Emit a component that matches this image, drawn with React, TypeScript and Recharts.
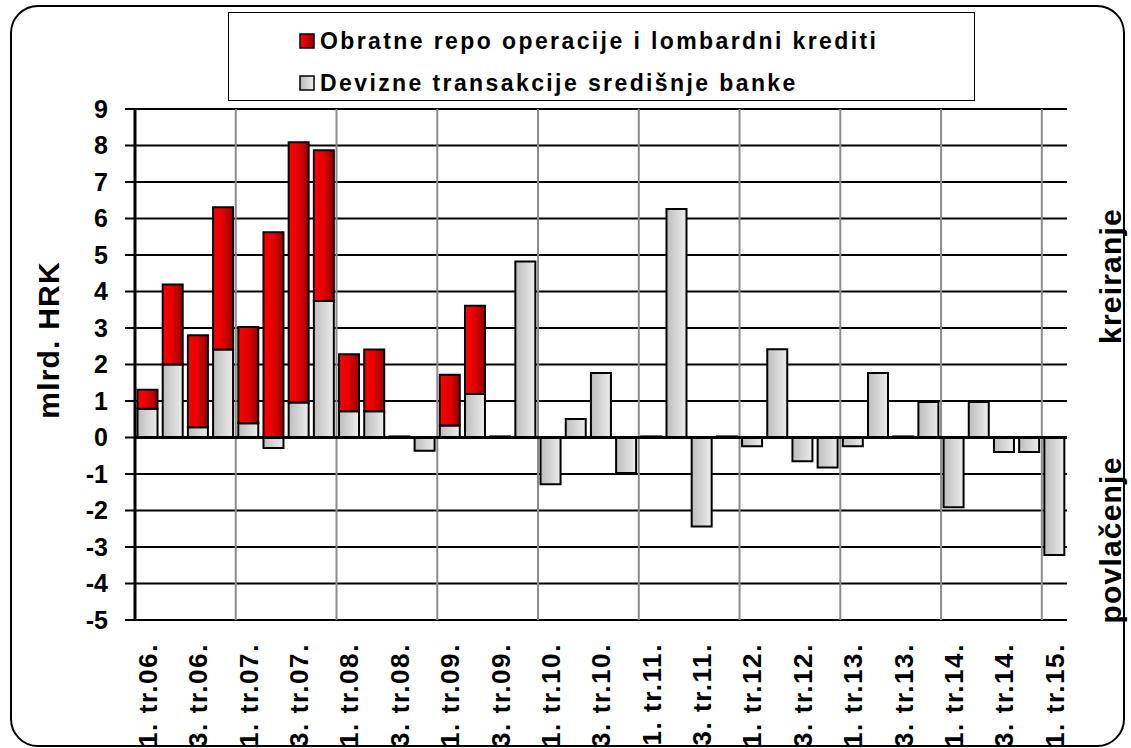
// Kreiranje i povlačenje likvidnosti — repo/lombard vs. FX transactions, quarterly 2006–2015.
import { Bar, BarChart, CartesianGrid, Legend, ReferenceLine, XAxis, YAxis } from "recharts";

const quarters = [
  "1. tr.06.", "2. tr.06.", "3. tr.06.", "4. tr.06.",
  "1. tr.07.", "2. tr.07.", "3. tr.07.", "4. tr.07.",
  "1. tr.08.", "2. tr.08.", "3. tr.08.", "4. tr.08.",
  "1. tr.09.", "2. tr.09.", "3. tr.09.", "4. tr.09.",
  "1. tr.10.", "2. tr.10.", "3. tr.10.", "4. tr.10.",
  "1. tr.11.", "2. tr.11.", "3. tr.11.", "4. tr.11.",
  "1. tr.12.", "2. tr.12.", "3. tr.12.", "4. tr.12.",
  "1. tr.13.", "2. tr.13.", "3. tr.13.", "4. tr.13.",
  "1. tr.14.", "2. tr.14.", "3. tr.14.", "4. tr.14.",
  "1. tr.15.",
];

// Devizne transakcije središnje banke (mlrd. HRK)
const fxTransactions = [
  0.79, 2.0, 0.28, 2.41,
  0.39, -0.29, 0.96, 3.74,
  0.72, 0.72, 0.03, -0.36,
  0.33, 1.19, 0.03, 4.82,
  -1.28, 0.51, 1.77, -0.97,
  0.03, 6.26, -2.44, 0.03,
  -0.24, 2.42, -0.65, -0.82,
  -0.24, 1.77, 0.03, 0.97,
  -1.91, 0.97, -0.4, -0.4,
  -3.22,
];

// Obratne repo operacije i lombardni krediti (mlrd. HRK)
const repoLombard = [
  0.52, 2.19, 2.52, 3.9,
  2.64, 5.62, 7.13, 4.13,
  1.56, 1.69, 0, 0,
  1.39, 2.42, 0, 0,
  0, 0, 0, 0,
  0, 0, 0, 0,
  0, 0, 0, 0,
  0, 0, 0, 0,
  0, 0, 0, 0,
  0,
];

const yTicks = [-5, -4, -3, -2, -1, 0, 1, 2, 3, 4, 5, 6, 7, 8, 9];
// index of first quarter of each year from 2007 on (year separators)
const yearStarts = [4, 8, 12, 16, 20, 24, 28, 32, 36];

const seriesLabels = {
  repo: "Obratne repo operacije i lombardni krediti",
  fx: "Devizne transakcije središnje banke",
};

const data = quarters.map((q, i) => ({ q, fx: fxTransactions[i], repo: repoLombard[i] }));

const FONT = "'Liberation Sans', Arial, sans-serif";

function QuarterTick(props: any) {
  const { x, y, payload } = props;
  const ty = y + 23;
  return (
    <text
      x={x}
      y={ty}
      transform={`rotate(-90, ${x}, ${ty})`}
      textAnchor="end"
      dy="0.36em"
      fontFamily={FONT}
      fontWeight="bold"
      fontSize={26}
      letterSpacing={1.6}
      fill="#000"
    >
      {payload.value}
    </text>
  );
}

function Swatch({ id, from, to }: { id: string; from: string; to: string }) {
  return (
    <svg width={16} height={16} style={{ marginRight: 5, flex: "none" }}>
      <defs>
        <linearGradient id={id} x1="0" y1="0" x2="1" y2="0">
          <stop offset="0%" stopColor={from} />
          <stop offset="100%" stopColor={to} />
        </linearGradient>
      </defs>
      <rect x={1} y={1} width={14} height={14} fill={`url(#${id})`} stroke="#000" strokeWidth={1.5} />
    </svg>
  );
}

function LegendBox() {
  const row = {
    display: "flex",
    alignItems: "center",
    height: 42,
    fontFamily: FONT,
    fontWeight: "bold" as const,
    fontSize: 23,
    letterSpacing: 2.4,
    color: "#000",
    whiteSpace: "nowrap" as const,
  };
  return (
    <div style={{ paddingTop: 7, paddingLeft: 70 }}>
      <div style={row}>
        <Swatch id="lgRed" from="#ff0000" to="#a00000" />
        {seriesLabels.repo}
      </div>
      <div style={row}>
        <Swatch id="lgGrey" from="#b8b8b8" to="#f0f0f0" />
        {seriesLabels.fx}
      </div>
    </div>
  );
}

function SideLabel({ x, y, children }: { x: number; y: number; children: string }) {
  return (
    <text
      x={x}
      y={y}
      transform={`rotate(-90, ${x}, ${y})`}
      textAnchor="middle"
      dy="0.36em"
      fontFamily={FONT}
      fontWeight="bold"
      fontSize={30}
      letterSpacing={1.2}
      fill="#000"
    >
      {children}
    </text>
  );
}

export default function App() {
  return (
    <div style={{ position: "absolute", left: 0, top: 0, width: 1131, height: 748, background: "#fff", overflow: "hidden" }}>
      <BarChart
        width={1131}
        height={748}
        data={data}
        stackOffset="sign"
        barCategoryGap="10%"
        margin={{ top: 109, right: 64, bottom: 8, left: 55 }}
      >
        <defs>
          <linearGradient id="redGrad" x1="0" y1="0" x2="1" y2="0">
            <stop offset="0%" stopColor="#ff0000" />
            <stop offset="45%" stopColor="#e60000" />
            <stop offset="100%" stopColor="#9a0000" />
          </linearGradient>
          <linearGradient id="greyGrad" x1="0" y1="0" x2="1" y2="0">
            <stop offset="0%" stopColor="#bdbdbd" />
            <stop offset="100%" stopColor="#ececec" />
          </linearGradient>
        </defs>
        <CartesianGrid vertical={false} stroke="#000" strokeWidth={2} />
        <CartesianGrid
          horizontal={false}
          stroke="#8c8c8c"
          strokeWidth={2}
          verticalCoordinatesGenerator={({ offset }: any) =>
            yearStarts.map((i) => offset.left + (offset.width * i) / quarters.length)
          }
        />
        <XAxis
          dataKey="q"
          interval={1}
          height={120}
          tickSize={0}
          tickMargin={0}
          axisLine={false}
          tickLine={false}
          tick={<QuarterTick />}
        />
        <YAxis
          domain={[-5, 9]}
          ticks={yTicks}
          interval={0}
          width={80}
          tickSize={10}
          tickMargin={17}
          axisLine={{ stroke: "#000", strokeWidth: 3 }}
          tickLine={{ stroke: "#000", strokeWidth: 2 }}
          tick={{ fontFamily: FONT, fontWeight: "bold", fontSize: 25, fill: "#000" }}
        />
        <YAxis
          yAxisId="right"
          orientation="right"
          domain={[-5, 9]}
          width={0}
          tick={false}
          tickLine={false}
          axisLine={{ stroke: "#000", strokeWidth: 2.5 }}
        />
        <Legend
          layout="horizontal"
          verticalAlign="middle"
          align="center"
          content={<LegendBox />}
          wrapperStyle={{
            top: 12,
            left: 228,
            width: 747,
            height: 89,
            border: "1.5px solid #000",
            boxSizing: "border-box",
            background: "#fff",
          }}
        />
        <Bar
          dataKey="fx"
          name={seriesLabels.fx}
          stackId="a"
          fill="url(#greyGrad)"
          stroke="#000"
          strokeWidth={2}
          isAnimationActive={false}
        />
        <Bar
          dataKey="repo"
          name={seriesLabels.repo}
          stackId="a"
          fill="url(#redGrad)"
          stroke="#000"
          strokeWidth={2}
          isAnimationActive={false}
        />
        <ReferenceLine y={0} stroke="#000" strokeWidth={3} />
      </BarChart>

      <svg width={1131} height={748} style={{ position: "absolute", left: 0, top: 0, pointerEvents: "none" }}>
        <SideLabel x={48} y={340}>mlrd. HRK</SideLabel>
        <SideLabel x={1110} y={276}>kreiranje</SideLabel>
        <SideLabel x={1110} y={540}>povlačenje</SideLabel>
      </svg>

      <div
        style={{
          position: "absolute",
          left: 10,
          top: 5,
          width: 1115,
          height: 742,
          border: "2px solid #000",
          borderRadius: 28,
          boxSizing: "border-box",
          pointerEvents: "none",
        }}
      />
    </div>
  );
}
